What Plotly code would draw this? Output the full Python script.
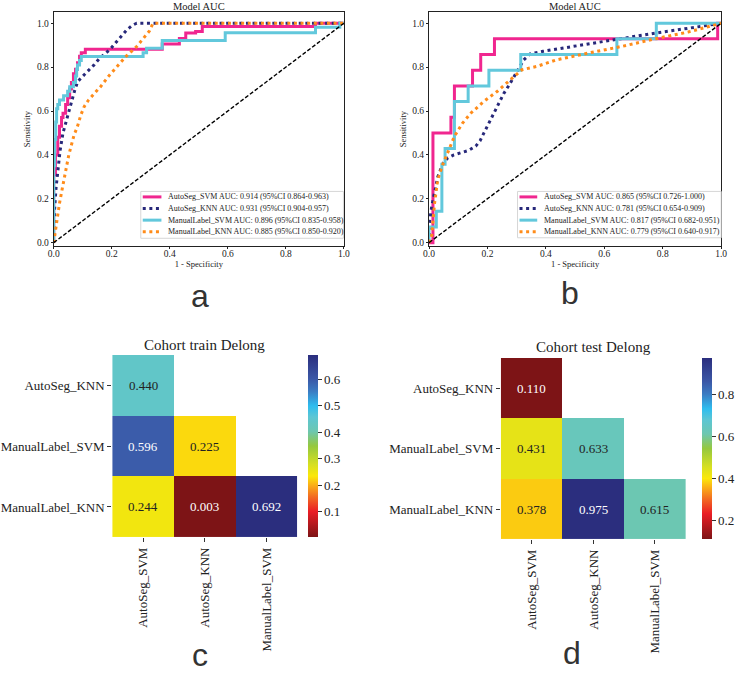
import plotly.graph_objects as go

# ---------------- ROC data (panel a: train) ----------------
a_svm_fpr = [0, 0, 0.006, 0.006, 0.014, 0.014, 0.02, 0.02, 0.027, 0.027, 0.032, 0.032, 0.041, 0.041, 0.048, 0.048,
             0.055, 0.055, 0.061, 0.061, 0.068, 0.068, 0.075, 0.075, 0.082, 0.082, 0.089, 0.089, 0.095, 0.095,
             0.109, 0.109, 0.374, 0.374, 0.433, 0.433, 0.455, 0.455, 0.489, 0.489, 0.512, 0.512, 0.902, 0.902, 1.0]
a_svm_tpr = [0, 0.31, 0.31, 0.40, 0.40, 0.48, 0.48, 0.53, 0.53, 0.57, 0.57, 0.59, 0.59, 0.63, 0.63, 0.66,
             0.66, 0.70, 0.70, 0.73, 0.73, 0.77, 0.77, 0.79, 0.79, 0.82, 0.82, 0.85, 0.85, 0.866,
             0.866, 0.882, 0.882, 0.905, 0.905, 0.93, 0.93, 0.955, 0.955, 0.962, 0.962, 0.985, 0.985, 1.0, 1.0]
a_knn_fpr = [0, 0.003, 0.008, 0.015, 0.022, 0.032, 0.042, 0.049, 0.06, 0.073, 0.083, 0.093, 0.105, 0.12, 0.139,
             0.158, 0.178, 0.195, 0.212, 0.232, 0.252, 0.27, 0.286, 1.0]
a_knn_tpr = [0, 0.15, 0.25, 0.35, 0.42, 0.50, 0.55, 0.576, 0.636, 0.697, 0.735, 0.75, 0.765, 0.785, 0.81,
             0.84, 0.864, 0.882, 0.909, 0.94, 0.97, 0.99, 1.0, 1.0]
a_msvm_fpr = [0, 0, 0.003, 0.003, 0.007, 0.007, 0.01, 0.01, 0.014, 0.014, 0.02, 0.02, 0.034, 0.034, 0.048, 0.048,
              0.055, 0.055, 0.068, 0.068, 0.075, 0.075, 0.079, 0.079, 0.082, 0.082, 0.089, 0.089, 0.095, 0.095,
              0.308, 0.308, 0.32, 0.32, 0.374, 0.374, 0.591, 0.591, 0.902, 0.902, 0.986, 0.986, 1.0]
a_msvm_tpr = [0, 0.35, 0.35, 0.47, 0.47, 0.55, 0.55, 0.61, 0.61, 0.63, 0.63, 0.65, 0.65, 0.67, 0.67, 0.69,
              0.69, 0.71, 0.71, 0.73, 0.73, 0.76, 0.76, 0.79, 0.79, 0.81, 0.81, 0.83, 0.83, 0.848,
              0.848, 0.866, 0.866, 0.886, 0.886, 0.921, 0.921, 0.957, 0.957, 0.982, 0.982, 1.0, 1.0]
a_mknn_fpr = [0, 0.003, 0.008, 0.015, 0.02, 0.03, 0.037, 0.045, 0.052, 0.06, 0.07, 0.082, 0.093, 0.105, 0.12,
              0.14, 0.162, 0.19, 0.218, 0.25, 0.286, 0.31, 0.33, 0.342, 1.0]
a_mknn_tpr = [0, 0.03, 0.08, 0.14, 0.18, 0.25, 0.30, 0.35, 0.40, 0.44, 0.49, 0.53, 0.58, 0.62, 0.65,
              0.68, 0.712, 0.76, 0.803, 0.85, 0.894, 0.93, 0.965, 1.0, 1.0]

# ---------------- ROC data (panel b: test) ----------------
b_svm_fpr = [0, 0.0135, 0.0135, 0.075, 0.075, 0.087, 0.087, 0.149, 0.149, 0.177, 0.177, 0.224, 0.224, 0.988, 0.988, 1.0]
b_svm_tpr = [0, 0, 0.5, 0.5, 0.571, 0.571, 0.714, 0.714, 0.786, 0.786, 0.857, 0.857, 0.929, 0.929, 1.0, 1.0]
b_knn_fpr = [0, 0.002, 0.01, 0.02, 0.03, 0.047, 0.064, 0.085, 0.109, 0.135, 0.16, 0.175, 0.188, 0.205, 0.222,
             0.24, 0.256, 0.275, 0.29, 0.31, 0.324, 0.346, 0.39, 0.436, 0.549, 0.662, 0.774, 0.887, 1.0]
b_knn_tpr = [0, 0.1, 0.17, 0.24, 0.30, 0.36, 0.386, 0.40, 0.41, 0.42, 0.44, 0.465, 0.5, 0.545, 0.59,
             0.635, 0.68, 0.72, 0.757, 0.80, 0.833, 0.86, 0.872, 0.882, 0.909, 0.932, 0.955, 0.977, 1.0]
b_msvm_fpr = [0, 0, 0.025, 0.025, 0.044, 0.044, 0.055, 0.055, 0.087, 0.087, 0.134, 0.134, 0.205, 0.205, 0.314,
              0.314, 0.643, 0.643, 0.778, 0.778, 1.0]
b_msvm_tpr = [0, 0.071, 0.071, 0.143, 0.143, 0.357, 0.357, 0.429, 0.429, 0.643, 0.643, 0.714, 0.714, 0.786, 0.786,
              0.857, 0.857, 0.929, 0.929, 1.0, 1.0]
b_mknn_fpr = [0, 0.008, 0.013, 0.019, 0.03, 0.047, 0.064, 0.087, 0.115, 0.143, 0.188, 0.233, 0.278, 0.318,
              0.369, 0.436, 0.549, 0.662, 0.774, 0.887, 1.0]
b_mknn_tpr = [0, 0.015, 0.09, 0.18, 0.288, 0.356, 0.41, 0.485, 0.545, 0.59, 0.644, 0.689, 0.742, 0.788,
              0.803, 0.833, 0.865, 0.895, 0.929, 0.96, 1.0]

a_labels = ["AutoSeg_SVM AUC: 0.914 (95%CI 0.864-0.963)",
            "AutoSeg_KNN AUC: 0.931 (95%CI 0.904-0.957)",
            "ManualLabel_SVM AUC: 0.896 (95%CI 0.835-0.958)",
            "ManualLabel_KNN AUC: 0.885 (95%CI 0.850-0.920)"]
b_labels = ["AutoSeg_SVM AUC: 0.865 (95%CI 0.726-1.000)",
            "AutoSeg_KNN AUC: 0.781 (95%CI 0.654-0.909)",
            "ManualLabel_SVM AUC: 0.817 (95%CI 0.682-0.951)",
            "ManualLabel_KNN AUC: 0.779 (95%CI 0.640-0.917)"]

# ---------------- Delong p-value data ----------------
hm_cols = ["AutoSeg_SVM", "AutoSeg_KNN", "ManualLabel_SVM"]
hm_rows = ["AutoSeg_KNN", "ManualLabel_SVM", "ManualLabel_KNN"]
train_p = [[0.440, None, None],
           [0.596, 0.225, None],
           [0.244, 0.003, 0.692]]
test_p = [[0.110, None, None],
          [0.431, 0.633, None],
          [0.378, 0.975, 0.615]]

SERIF = "Liberation Serif"
W, H = 738, 673


def px_x(v):
    return v / W


def px_y(v):
    return 1 - v / H


colors = ["#f0268f", "#27287a", "#62c8dc", "#ff8c1a"]
DOT = "3px,3.6px"
styles = [dict(width=3), dict(width=3, dash=DOT), dict(width=3), dict(width=3, dash=DOT)]

fig = go.Figure()
shapes = []
annotations = []

panels = [
    ("x", "y", a_labels, (137, 343, 192, 239), (139, 158, 163),
     [(a_svm_fpr, a_svm_tpr), (a_knn_fpr, a_knn_tpr), (a_msvm_fpr, a_msvm_tpr), (a_mknn_fpr, a_mknn_tpr)]),
    ("x2", "y2", b_labels, (520, 727, 192, 238.5), (522, 540, 545),
     [(b_svm_fpr, b_svm_tpr), (b_knn_fpr, b_knn_tpr), (b_msvm_fpr, b_msvm_tpr), (b_mknn_fpr, b_mknn_tpr)]),
]
row_centers = [197.5, 209.2, 220.8, 232.4]
for xa, ya, labels, box, hnd, curves in panels:
    for i, (fx, ty) in enumerate(curves):
        fig.add_trace(go.Scatter(x=fx, y=ty, mode="lines", name=labels[i], showlegend=False,
                                 line=dict(color=colors[i], **styles[i]), xaxis=xa, yaxis=ya))
    fig.add_trace(go.Scatter(x=[0, 1], y=[0, 1], mode="lines", showlegend=False,
                             line=dict(color="black", width=1.4, dash="4px,2px"), xaxis=xa, yaxis=ya))
    # legend box (matplotlib-style)
    x0, x1, y0, y1 = box
    shapes.append(dict(type="rect", xref="paper", yref="paper", x0=px_x(x0), x1=px_x(x1),
                       y0=px_y(y1), y1=px_y(y0), line=dict(color="#d6d6d6", width=1),
                       fillcolor="rgba(255,255,255,0.85)", layer="above"))
    for i, lab in enumerate(labels):
        yc = px_y(row_centers[i])
        shapes.append(dict(type="line", xref="paper", yref="paper", x0=px_x(hnd[0]), x1=px_x(hnd[1]),
                           y0=yc, y1=yc, line=dict(color=colors[i], **styles[i]), layer="above"))
        annotations.append(dict(x=px_x(hnd[2]), y=yc, xref="paper", yref="paper", xanchor="left",
                                yanchor="middle", text=lab, showarrow=False,
                                font=dict(family=SERIF, size=8, color="#222")))

# colorscale approximating the heatmap colormap
cscale = [[0.0, "#7d1416"], [0.14, "#ea1d25"], [0.22, "#f26a22"], [0.29, "#fbb416"],
          [0.335, "#fbe80a"], [0.40, "#d5df22"], [0.50, "#95c83e"], [0.58, "#6dc7b0"],
          [0.66, "#5cc6d4"], [0.72, "#2ebdef"], [0.80, "#3b7cc3"], [0.87, "#3b57a6"], [1.0, "#2b2e7e"]]

hm_specs = [("x3", "y3", train_p, [0.1, 0.2, 0.3, 0.4, 0.5, 0.6], 307, 356, 539),
            ("x4", "y4", test_p, [0.2, 0.4, 0.6, 0.8], 708, 359, 541)]
for xa, ya, z, cticks, cbx, cbt, cbb in hm_specs:
    vals = [v for row in z for v in row if v is not None]
    zmin, zmax = min(vals), max(vals)
    fig.add_trace(go.Heatmap(z=z, x=hm_cols, y=hm_rows, xaxis=xa, yaxis=ya, colorscale=cscale,
                             zmin=zmin, zmax=zmax, xgap=0, ygap=0, hoverongaps=False,
                             colorbar=dict(x=px_x(cbx), xanchor="left", xpad=0, ypad=0,
                                           y=px_y((cbt + cbb) / 2), yanchor="middle",
                                           len=(cbb - cbt) / H, lenmode="fraction", thickness=10,
                                           outlinewidth=0, tickvals=cticks, ticktext=[f"{t:.1f}" for t in cticks],
                                           ticks="outside", ticklen=4, tickcolor="#333",
                                           tickfont=dict(family=SERIF, size=13, color="#222"))))
    for r, row in enumerate(z):
        for c, v in enumerate(row):
            if v is None:
                continue
            nv = (v - zmin) / (zmax - zmin)
            tc = "white" if (nv < 0.15 or nv > 0.8) else "#222"
            annotations.append(dict(x=hm_cols[c], y=hm_rows[r], xref=xa, yref=ya, text=f"{v:.3f}",
                                    showarrow=False, font=dict(family=SERIF, size=13, color=tc)))

roc_axis = dict(range=[0, 1], tickvals=[0, 0.2, 0.4, 0.6, 0.8, 1.0], ticktext=["0.0", "0.2", "0.4", "0.6", "0.8", "1.0"],
                showgrid=False, zeroline=False, showline=True, mirror=True, linecolor="#222", linewidth=1,
                ticks="outside", ticklen=2, tickcolor="#222", tickfont=dict(family=SERIF, size=9.5, color="#222"))
roc_xaxis = dict(roc_axis, ticklabelstandoff=-3)
roc_yaxis = dict(roc_axis, range=[-0.015, 1.05])

a_x = [px_x(48.5), px_x(343.5)]
b_x = [px_x(430), px_x(727)]
roc_y = [px_y(246.7), px_y(12.3)]

hm_ax = dict(showgrid=False, zeroline=False, showline=False, ticks="outside", ticklen=4, tickcolor="#333",
             tickfont=dict(family=SERIF, size=13, color="#222"))
xt = dict(text="1 - Specificity", font=dict(family=SERIF, size=8.5, color="#222"), standoff=0)
yt = dict(text="Sensitivity", font=dict(family=SERIF, size=8.5, color="#222"), standoff=4)

fig.update_layout(
    width=W, height=H, margin=dict(l=0, r=0, t=0, b=0),
    paper_bgcolor="white", plot_bgcolor="white", showlegend=False,
    xaxis=dict(roc_xaxis, domain=a_x, anchor="y", title=xt),
    yaxis=dict(roc_yaxis, domain=roc_y, anchor="x", title=yt),
    xaxis2=dict(roc_xaxis, domain=b_x, anchor="y2", title=xt),
    yaxis2=dict(roc_yaxis, domain=roc_y, anchor="x2", title=yt),
    xaxis3=dict(hm_ax, domain=[px_x(108), px_x(296)], anchor="y3", tickangle=-90),
    yaxis3=dict(hm_ax, domain=[px_y(539), px_y(356)], anchor="x3", autorange="reversed"),
    xaxis4=dict(hm_ax, domain=[px_x(503), px_x(691)], anchor="y4", tickangle=-90),
    yaxis4=dict(hm_ax, domain=[px_y(541), px_y(359)], anchor="x4", autorange="reversed"),
)

for dom in (a_x, b_x):
    annotations.append(dict(x=(dom[0] + dom[1]) / 2, y=px_y(6.5), xref="paper", yref="paper",
                            xanchor="center", yanchor="middle", text="Model AUC", showarrow=False,
                            font=dict(family=SERIF, size=10.5, color="#222")))
annotations.append(dict(x=(px_x(108) + px_x(296)) / 2, y=px_y(356), xref="paper", yref="paper",
                        xanchor="center", yanchor="bottom", text="Cohort train Delong", showarrow=False,
                        font=dict(family=SERIF, size=15, color="#222")))
annotations.append(dict(x=(px_x(503) + px_x(691)) / 2, y=px_y(358), xref="paper", yref="paper",
                        xanchor="center", yanchor="bottom", text="Cohort test Delong", showarrow=False,
                        font=dict(family=SERIF, size=15, color="#222")))
for letter, lx, ly, anch, ys in [("a", 197, 297, "middle", 0), ("b", 573, 294, "middle", 0),
                                  ("c", 197, 673, "bottom", -4), ("d", 575, 672, "bottom", -3)]:
    annotations.append(dict(x=px_x(lx), y=px_y(ly), xref="paper", yref="paper", xanchor="center",
                            yanchor=anch, yshift=ys, text=letter, showarrow=False,
                            font=dict(family="Liberation Sans", size=32, color="#333")))
fig.update_layout(annotations=annotations, shapes=shapes)

fig.write_html("out.html")
